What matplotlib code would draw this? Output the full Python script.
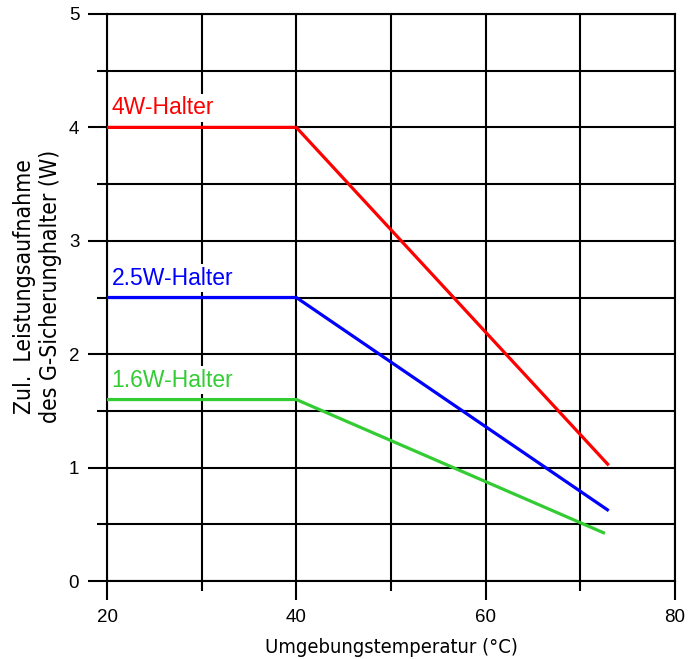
import matplotlib
matplotlib.use("Agg")
import matplotlib.pyplot as plt
from matplotlib.ticker import MultipleLocator

# Data
temp_4w = [20, 40, 73]
power_4w = [4.0, 4.0, 1.02]
temp_25w = [20, 40, 73]
power_25w = [2.5, 2.5, 0.62]
temp_16w = [20, 40, 72.6]
power_16w = [1.6, 1.6, 0.42]
labels = ["4W-Halter", "2.5W-Halter", "1.6W-Halter"]
colors = ["#ff0000", "#0000ff", "#33cc33"]

plt.rcParams['font.family'] = ['Liberation Sans', 'DejaVu Sans']

fig = plt.figure(figsize=(7, 6.59), dpi=100)
ax = fig.add_axes([107/700, 78/659, (675-107)/700, (581-14)/659])

ax.set_xlim(20, 80)
ax.set_ylim(0, 5)
ax.xaxis.set_major_locator(MultipleLocator(20))
ax.xaxis.set_minor_locator(MultipleLocator(10))
ax.yaxis.set_major_locator(MultipleLocator(1))
ax.yaxis.set_minor_locator(MultipleLocator(0.5))
ax.grid(True, which='both', color='black', linewidth=1.5, zorder=1)
ax.set_axisbelow(True)
for s in ax.spines.values():
    s.set_linewidth(1.5)
    s.set_color('black')
ax.tick_params(which='major', direction='out', length=14, width=1.5, labelsize=13.5, pad=6)
ax.tick_params(which='minor', direction='out', length=7, width=1.5)

series = [(temp_4w, power_4w), (temp_25w, power_25w), (temp_16w, power_16w)]
for (xs, ys), lab, c in zip(series, labels, colors):
    ax.plot(xs, ys, color=c, linewidth=2.3, zorder=3, solid_capstyle='butt')
    ax.text(20.5, ys[0] + 0.07, lab, color=c, fontsize=16.5, ha='left', va='bottom',
            zorder=2, bbox=dict(facecolor='white', edgecolor='none', pad=2))

cond = dict(family='DejaVu Sans', stretch='condensed')
ax.set_xlabel("Umgebungstemperatur (°C)", fontsize=14.5, labelpad=9, **cond)
ax.set_ylabel("Zul.  Leistungsaufnahme\ndes G-Sicherunghalter (W)", fontsize=16.5, **cond)
ax.yaxis.set_label_coords(-0.079, 0.52)

fig.savefig("out.png", dpi=100)
